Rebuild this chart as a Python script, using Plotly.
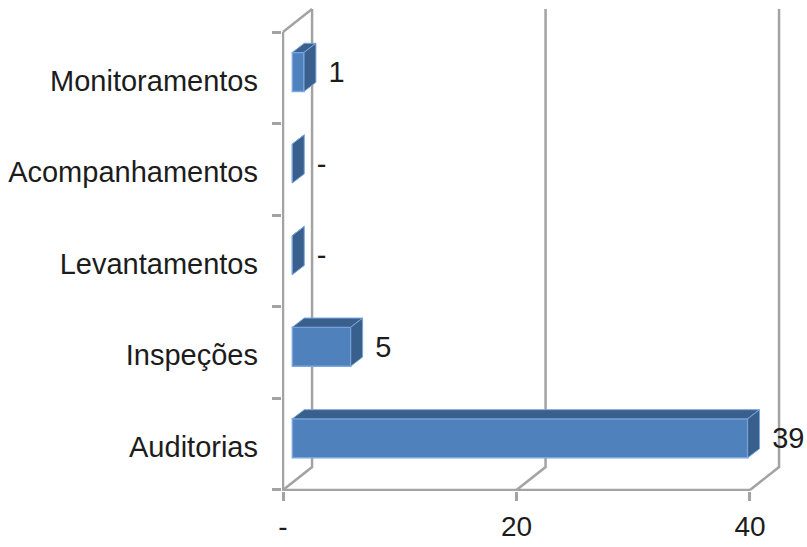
import plotly.graph_objects as go

categories = ["Auditorias", "Inspeções", "Levantamentos", "Acompanhamentos", "Monitoramentos"]
values = [39, 5, 0, 0, 1]
value_labels = ["39", "5", "-", "-", "1"]
x_ticks = [0, 20, 40]
x_tick_labels = ["-", "20", "40"]

FRONT = "#4f81bd"
DARK = "#395f8c"
EDGE = "#7ba7de"
GRID = "#a3a3a3"
TEXT = "#1c1c1c"
FONT = "Liberation Sans"
FS_VAL = 29
FS_X = 28
FS_CAT = 29

WALL_DX, WALL_DY = 2.49, 0.25      # depth of the 3D box, axis units
BAR_BASE, BAR_SHIFT, BAR_H = 0.80, 0.064, 0.426
BAR_DX, BAR_DY = 1.02, 0.10        # depth of each 3D bar
LABEL_GAP = 2.1
LABEL_DROP = 0.03                  # category and value labels sit a little low
X_RANGE = [-0.086, 44.884]         # room for the 3D depth and the labels
Y_RANGE = [-0.511, 4.762]

fig = go.Figure()

n = len(categories)
positions = list(range(n))
boundaries = [i - 0.5 for i in range(n + 1)]
y0, y1 = boundaries[0], boundaries[-1]

# 3D walls and the two front axis lines (main axes, beneath the bars)
wall_x, wall_y = [], []
for t in x_ticks:
    wall_x += [t, t + WALL_DX, t + WALL_DX, None]
    wall_y += [y0, y0 + WALL_DY, y1 + WALL_DY, None]
wall_x += [0, WALL_DX, None, 0, 0, x_ticks[-1]]
wall_y += [y1, y1 + WALL_DY, None, y1, y0, y0]
fig.add_trace(go.Scatter(x=wall_x, y=wall_y, mode="lines",
                         line=dict(color=GRID, width=2.5), hoverinfo="skip",
                         showlegend=False, xaxis="x", yaxis="y"))

# real bars: the front faces
fig.add_trace(go.Bar(y=positions, x=values, base=BAR_BASE, orientation="h",
                     width=BAR_H, offset=-BAR_H / 2 + BAR_SHIFT,
                     hovertext=categories,
                     marker=dict(color=FRONT, line=dict(color=EDGE, width=1.5)),
                     showlegend=False, xaxis="x2", yaxis="y2"))

# top and side faces, computed from the values
for i, v in zip(positions, values):
    xl, xr = BAR_BASE, BAR_BASE + v
    yb, yt = i + BAR_SHIFT - BAR_H / 2, i + BAR_SHIFT + BAR_H / 2
    faces = [
        ([xl, xr, xr + BAR_DX, xl + BAR_DX, xl], [yt, yt, yt + BAR_DY, yt + BAR_DY, yt]),
        ([xr, xr + BAR_DX, xr + BAR_DX, xr, xr], [yb, yb + BAR_DY, yt + BAR_DY, yt, yb]),
    ]
    for fx, fy in faces:
        fig.add_trace(go.Scatter(x=fx, y=fy, mode="lines", fill="toself", fillcolor=DARK,
                                 line=dict(color=EDGE, width=1),
                                 hoverinfo="skip", showlegend=False, xaxis="x2", yaxis="y2"))

# value labels
fig.add_trace(go.Scatter(
    x=[BAR_BASE + v + LABEL_GAP for v in values],
    y=[i + BAR_SHIFT - LABEL_DROP for i in positions],
    text=value_labels, mode="text", textposition="middle right",
    textfont=dict(family=FONT, size=FS_VAL, color=TEXT),
    hoverinfo="skip", showlegend=False, xaxis="x2", yaxis="y2"))

xa = dict(range=X_RANGE, tickmode="array", tickvals=x_ticks, ticktext=x_tick_labels,
          showgrid=False, zeroline=False, automargin=False)
ya = dict(range=Y_RANGE, showgrid=False, zeroline=False, automargin=False)

fig.update_layout(
    width=807, height=547,
    margin=dict(l=282, r=0, t=8, b=56),
    paper_bgcolor="white", plot_bgcolor="white",
    font=dict(family=FONT, size=FS_X, color=TEXT),
    showlegend=False,
    xaxis=dict(**xa, showline=False, ticks="outside",
               ticklen=9, tickwidth=2.5, tickcolor=GRID, tickangle=0,
               ticklabelstandoff=1,
               tickfont=dict(family=FONT, size=FS_X, color=TEXT)),
    yaxis=dict(**ya, showline=False, ticks="",
               tickmode="array", tickvals=[p - LABEL_DROP for p in positions],
               ticktext=categories, ticklabelstandoff=23,
               minor=dict(tickmode="array", tickvals=boundaries, ticks="outside",
                          ticklen=9, tickwidth=2.5, tickcolor=GRID, showgrid=False),
               tickfont=dict(family=FONT, size=FS_CAT, color=TEXT)),
    xaxis2=dict(**xa, overlaying="x", visible=False, anchor="y2"),
    yaxis2=dict(**ya, overlaying="y", visible=False, anchor="x2"),
)

fig.write_html("out.html", config={"displayModeBar": False},
               post_script="document.body.style.margin='0';")
